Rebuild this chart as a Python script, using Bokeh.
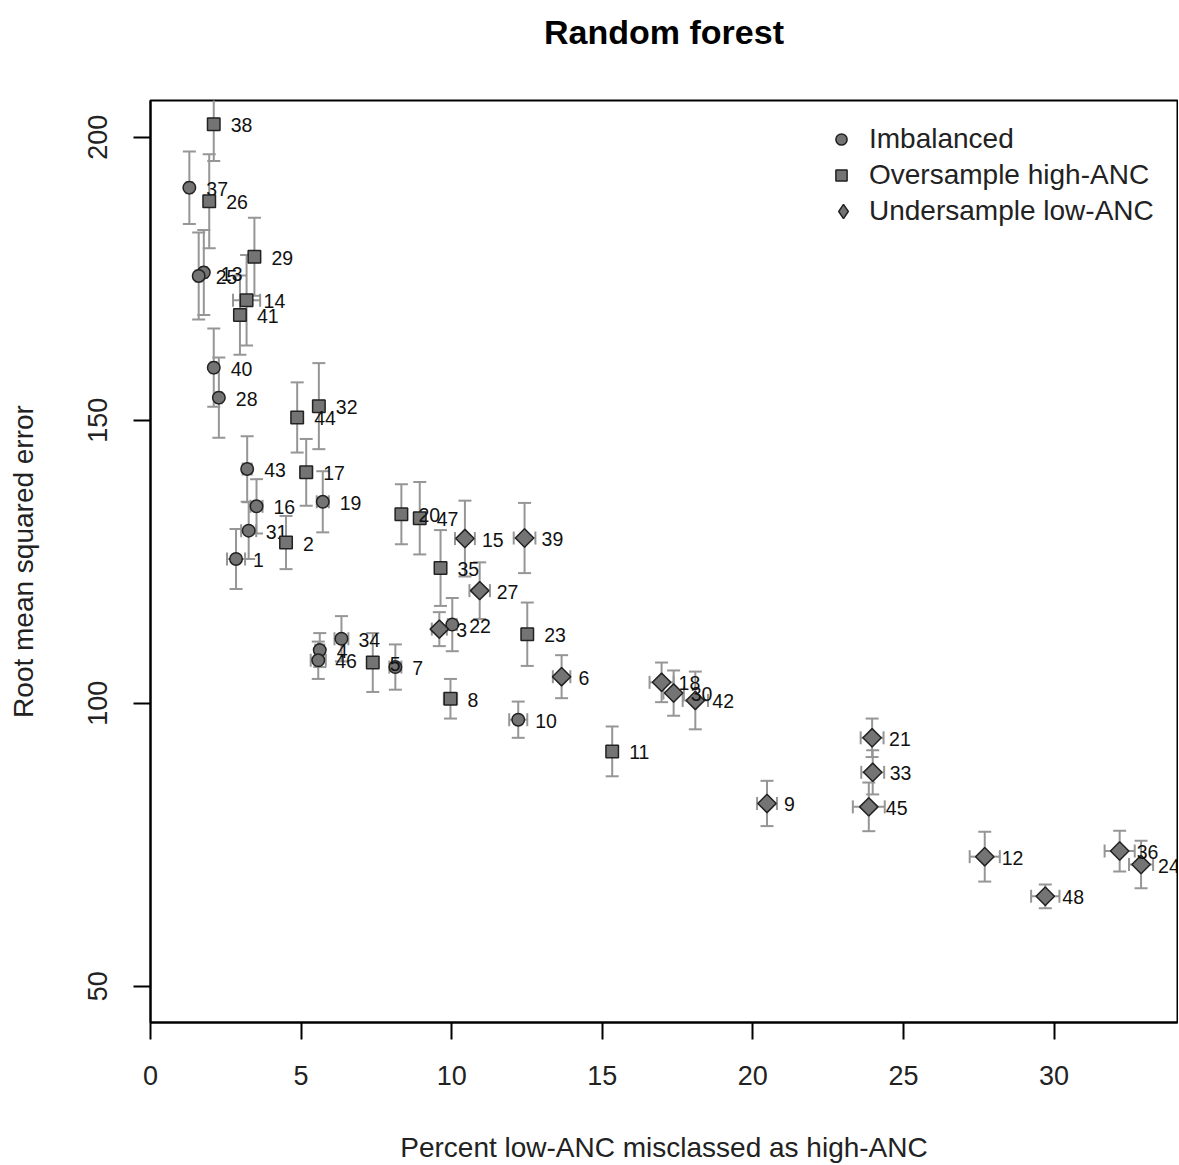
import math
from bokeh.plotting import figure
from bokeh.models import Range1d, Legend, LegendItem, FixedTicker, ColumnDataSource, Title
from bokeh.embed import file_html
from bokeh.resources import INLINE
from bokeh.core.properties import value

# ---- data ----
imb_id = [37, 13, 25, 40, 28, 43, 16, 31, 1, 19, 34, 4, 46, 7, 22, 10]
imb_x = [1.29, 1.77, 1.60, 2.10, 2.27, 3.21, 3.52, 3.26, 2.84, 5.72, 6.34, 5.62, 5.57, 8.13, 10.02, 12.21]
imb_y = [191.1, 176.1, 175.5, 159.3, 154.0, 141.4, 134.8, 130.5, 125.5, 135.6, 111.4, 109.4, 107.6, 106.4, 113.9, 97.1]
imb_xerr = [0.1, 0.1, 0.1, 0.1, 0.1, 0.15, 0.2, 0.25, 0.3, 0.2, 0.23, 0.15, 0.25, 0.2, 0.15, 0.3]
imb_yerr = [6.4, 7.5, 7.7, 6.9, 7.1, 5.8, 4.8, 5.0, 5.3, 5.4, 4.0, 3.0, 3.3, 4.0, 4.7, 3.2]

ovs_id = [38, 26, 29, 14, 41, 44, 32, 17, 2, 20, 47, 35, 5, 8, 23, 11]
ovs_x = [2.10, 1.95, 3.45, 3.19, 2.97, 4.87, 5.59, 5.17, 4.50, 8.33, 8.94, 9.63, 7.38, 9.96, 12.51, 15.33]
ovs_y = [202.3, 188.7, 178.9, 171.2, 168.6, 150.5, 152.5, 140.8, 128.4, 133.4, 132.7, 123.9, 107.2, 100.8, 112.2, 91.5]
ovs_xerr = [0.1, 0.1, 0.1, 0.45, 0.1, 0.1, 0.15, 0.2, 0.15, 0.1, 0.15, 0.15, 0.15, 0.22, 0.15, 0.15]
ovs_yerr = [6.5, 8.3, 6.9, 8.0, 7.0, 6.2, 7.6, 5.9, 4.7, 5.3, 6.4, 6.7, 5.2, 3.5, 5.6, 4.4]

uns_id = [15, 39, 27, 3, 6, 18, 30, 42, 9, 21, 33, 45, 12, 48, 36, 24]
uns_x = [10.44, 12.42, 10.93, 9.59, 13.65, 16.97, 17.37, 18.09, 20.47, 23.96, 23.98, 23.85, 27.70, 29.71, 32.18, 32.89]
uns_y = [129.1, 129.2, 119.9, 113.1, 104.7, 103.7, 101.8, 100.5, 82.3, 93.9, 87.8, 81.7, 72.9, 65.9, 73.9, 71.5]
uns_xerr = [0.33, 0.36, 0.34, 0.25, 0.29, 0.4, 0.34, 0.42, 0.33, 0.38, 0.38, 0.53, 0.5, 0.47, 0.5, 0.4]
uns_yerr = [6.7, 6.2, 5.0, 3.0, 3.8, 3.5, 4.0, 5.1, 4.0, 3.4, 3.9, 4.3, 4.4, 2.1, 3.6, 4.2]

series_names = ["Imbalanced", "Oversample high-ANC", "Undersample low-ANC"]
x_ticks = [0, 5, 10, 15, 20, 25, 30]
y_ticks = [50, 100, 150, 200]

FONT = "Liberation Sans"
BAR = "#969696"
FILL = "#747474"
EDGE = "#222222"

p = figure(width=1178, height=1165, output_backend="svg", toolbar_location=None, title=None,
           x_range=Range1d(0, 34.1), y_range=Range1d(43.6, 206.5),
           min_border_left=150, min_border_right=1, min_border_top=100, min_border_bottom=142)
p.background_fill_color = "white"
p.border_fill_color = "white"
p.xgrid.visible = False
p.ygrid.visible = False
p.outline_line_color = "black"
p.outline_line_width = 2

# blank spacer next to the frame, then the title further out
spacer = Title(text=" ", text_font=FONT, text_font_size="2px", text_color="white", standoff=32)
p.add_layout(spacer, "above")
main_title = Title(text="Random forest", align="center", vertical_align="top",
                   text_font=FONT, text_font_size="34px", text_font_style="bold",
                   text_color="black", standoff=24)
p.add_layout(main_title, "above")

for ax in (p.xaxis[0], p.yaxis[0]):
    ax.axis_line_color = "black"
    ax.axis_line_width = 2
    ax.major_tick_line_color = "black"
    ax.major_tick_line_width = 2
    ax.major_tick_out = 17
    ax.major_tick_in = 0
    ax.minor_tick_line_color = None
    ax.major_label_text_font = FONT
    ax.major_label_text_font_size = "27px"
    ax.major_label_text_color = "#222222"
    ax.axis_label_text_font = FONT
    ax.axis_label_text_font_size = "28px"
    ax.axis_label_text_font_style = "normal"
    ax.axis_label_text_color = "#222222"

p.xaxis[0].ticker = FixedTicker(ticks=x_ticks)
p.yaxis[0].ticker = FixedTicker(ticks=y_ticks)
p.xaxis[0].axis_label = "Percent low-ANC misclassed as high-ANC"
p.yaxis[0].axis_label = "Root mean squared error"
p.xaxis[0].major_label_standoff = 26
p.yaxis[0].major_label_standoff = 26
p.yaxis[0].major_label_orientation = "vertical"
p.xaxis[0].axis_label_standoff = 44
p.yaxis[0].axis_label_standoff = 47

groups = [
    (imb_id, imb_x, imb_y, imb_xerr, imb_yerr, "circle", 0.0, 12.5),
    (ovs_id, ovs_x, ovs_y, ovs_xerr, ovs_yerr, "square", 0.0, 12.5),
    (uns_id, uns_x, uns_y, uns_xerr, uns_yerr, "square", math.pi / 4, 13.0),
]
legend_markers = ["circle", "square", "diamond"]

# error bars first (under the markers)
for ids, xs, ys, xe, ye, mk, ang, sz in groups:
    src = ColumnDataSource(dict(
        x=xs, y=ys,
        xl=[a - b for a, b in zip(xs, xe)], xr=[a + b for a, b in zip(xs, xe)],
        yl=[a - b for a, b in zip(ys, ye)], yu=[a + b for a, b in zip(ys, ye)],
    ))
    p.segment(x0="x", y0="yl", x1="x", y1="yu", source=src, line_color=BAR, line_width=2)
    p.segment(x0="xl", y0="y", x1="xr", y1="y", source=src, line_color=BAR, line_width=2)
    p.scatter(x="x", y="yl", source=src, marker="dash", size=13, line_color=BAR, line_width=2)
    p.scatter(x="x", y="yu", source=src, marker="dash", size=13, line_color=BAR, line_width=2)
    p.scatter(x="xl", y="y", source=src, marker="dash", angle=math.pi / 2, size=13, line_color=BAR, line_width=2)
    p.scatter(x="xr", y="y", source=src, marker="dash", angle=math.pi / 2, size=13, line_color=BAR, line_width=2)

for ids, xs, ys, xe, ye, mk, ang, sz in groups:
    src = ColumnDataSource(dict(x=xs, y=ys, lab=[str(i) for i in ids]))
    p.scatter(x="x", y="y", source=src, marker=mk, angle=ang, size=sz,
              fill_color=FILL, line_color=EDGE, line_width=1.5)
    p.text(x="x", y="y", text="lab", source=src, x_offset=17, y_offset=1,
           text_font=value(FONT), text_font_size="19.5px", text_color="#111111",
           text_align="left", text_baseline="middle")

# legend-only renderers (no data points drawn)
legend_renderers = []
for mk in legend_markers:
    r = p.scatter(x=[float("nan")], y=[float("nan")], marker=mk, size=12,
                  fill_color=FILL, line_color=EDGE, line_width=1.5)
    legend_renderers.append(r)

common = dict(padding=0, margin=0, spacing=0, glyph_height=36, label_height=36,
              label_text_font=FONT, label_text_font_size="28px", label_text_color="#222222",
              border_line_color=None, background_fill_alpha=0)
legend1 = Legend(items=[LegendItem(label=n, renderers=[r])
                        for n, r in zip(series_names[:2], legend_renderers[:2])],
                 location=(677, 829), glyph_width=28, label_standoff=14, **common)
legend2 = Legend(items=[LegendItem(label=series_names[2], renderers=[legend_renderers[2]])],
                 location=(674, 793), glyph_width=38, label_standoff=7, **common)
p.add_layout(legend1)
p.add_layout(legend2)

open("out.html", "w").write(file_html(p, INLINE))
